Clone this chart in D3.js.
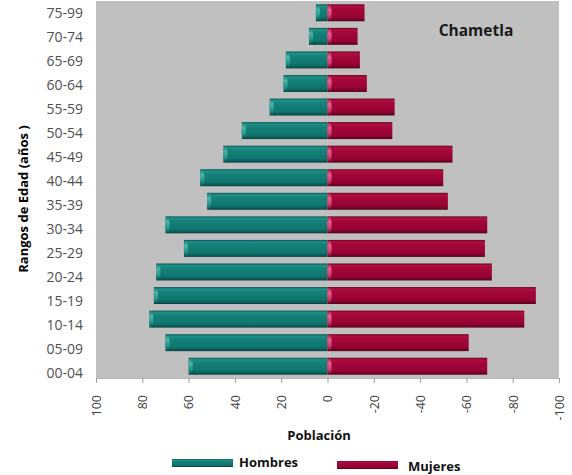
<!DOCTYPE html>
<html>
<head>
<meta charset="utf-8">
<script src="https://cdn.jsdelivr.net/npm/d3@7"></script>
<style>
  html, body { margin: 0; padding: 0; background: #ffffff; }
  svg { display: block; }
  text { font-family: "Open Sans", "Liberation Sans", sans-serif; }
</style>
</head>
<body>
<svg id="chart" width="572" height="475"></svg>
<script>
// Age groups, youngest first
const ageGroups = ["00-04", "05-09", "10-14", "15-19", "20-24", "25-29", "30-34", "35-39",
                   "40-44", "45-49", "50-54", "55-59", "60-64", "65-69", "70-74", "75-99"];
// Population by age group
const hombres = [60, 70, 77, 75, 74, 62, 70, 52, 55, 45, 37, 25, 19, 18, 8, 5];
const mujeres = [69, 61, 85, 90, 71, 68, 69, 52, 50, 54, 28, 29, 17, 14, 13, 16];
// Value-axis ticks (men plotted to the left as positive, women to the right as negative)
const xTicks = [100, 80, 60, 40, 20, 0, -20, -40, -60, -80, -100];

const rows = ageGroups.map((g, i) => ({ group: g, h: hombres[i], m: mujeres[i] }));

const svg = d3.select("#chart");
const plot = { left: 96, right: 559, top: 1, bottom: 378 };

const x = d3.scaleLinear().domain([100, -100]).range([plot.left, plot.right]);
const y = d3.scaleBand()
  .domain(ageGroups.slice().reverse())
  .range([plot.top, plot.bottom])
  .paddingInner(0.28)
  .paddingOuter(0.14);
// label band for the category axis
const yLab = d3.scaleBand()
  .domain(ageGroups.slice().reverse())
  .range([plot.top, 386]);

// gradients for the cylinder-style bars
const defs = svg.append("defs");
function barGradient(id, stops) {
  const g = defs.append("linearGradient").attr("id", id)
    .attr("x1", 0).attr("y1", 0).attr("x2", 0).attr("y2", 1);
  stops.forEach(([o, c]) => g.append("stop").attr("offset", o).attr("stop-color", c));
}
barGradient("gradH", [[0, "#0b5a55"], [0.12, "#1f8f87"], [0.3, "#148178"], [0.75, "#0f766f"], [0.9, "#0b5d58"], [1, "#083f3c"]]);
barGradient("gradM", [[0, "#6a0424"], [0.12, "#b0103f"], [0.3, "#a3063a"], [0.75, "#970334"], [0.9, "#760227"], [1, "#52011b"]]);
barGradient("capH", [[0, "#1a7a73"], [0.3, "#4fb3aa"], [0.7, "#24968d"], [1, "#0c5a55"]]);
barGradient("capM", [[0, "#a82550"], [0.3, "#e85f8a"], [0.7, "#cf3d70"], [1, "#7c0a30"]]);

// plot background
svg.append("rect")
  .attr("x", plot.left).attr("y", plot.top)
  .attr("width", plot.right - plot.left).attr("height", plot.bottom - plot.top)
  .attr("fill", "#c0c0c0");

const bars = svg.append("g");
const bh = y.bandwidth();

// Hombres bars (extend left from zero)
bars.selectAll("rect.h").data(rows).join("rect")
  .attr("class", "h")
  .attr("x", d => x(d.h))
  .attr("y", d => y(d.group))
  .attr("width", d => x(0) - x(d.h))
  .attr("height", bh)
  .attr("fill", "url(#gradH)");
bars.selectAll("ellipse.h").data(rows).join("ellipse")
  .attr("class", "h")
  .attr("cx", d => x(d.h) + 2)
  .attr("cy", d => y(d.group) + bh / 2)
  .attr("rx", 2.2)
  .attr("ry", bh / 2 - 0.5)
  .attr("fill", "url(#capH)");

// Mujeres bars (extend right from zero)
bars.selectAll("rect.m").data(rows).join("rect")
  .attr("class", "m")
  .attr("x", x(0))
  .attr("y", d => y(d.group))
  .attr("width", d => x(-d.m) - x(0))
  .attr("height", bh)
  .attr("fill", "url(#gradM)");
bars.selectAll("ellipse.m").data(rows).join("ellipse")
  .attr("class", "m")
  .attr("cx", x(0) + 2)
  .attr("cy", d => y(d.group) + bh / 2)
  .attr("rx", 2.2)
  .attr("ry", bh / 2 - 0.5)
  .attr("fill", "url(#capM)");

// value axis
const xAxis = svg.append("g")
  .attr("transform", `translate(0,${plot.bottom})`)
  .call(d3.axisBottom(x).tickValues(xTicks).tickFormat(d => String(d)).tickSize(5).tickPadding(0));
xAxis.select(".domain").attr("stroke", "#b8b8b8");
xAxis.selectAll(".tick line").attr("stroke", "#a0a0a0");
xAxis.selectAll(".tick text")
  .attr("transform", "rotate(-90)")
  .attr("x", -17).attr("y", 0).attr("dy", "0.35em")
  .attr("text-anchor", "end")
  .attr("fill", "#404040")
  .style("font-size", "12.5px");

// category axis
const yAxis = svg.append("g")
  .attr("transform", `translate(${plot.left},0)`)
  .call(d3.axisLeft(yLab).tickSize(0).tickPadding(13));
yAxis.select(".domain").remove();
yAxis.selectAll(".tick text")
  .attr("fill", "#505050")
  .style("font-size", "14px");

// axis titles
svg.append("text")
  .attr("transform", "translate(23,199) rotate(-90)")
  .attr("text-anchor", "middle").attr("dy", "0.35em")
  .attr("font-weight", "bold").attr("fill", "#000")
  .style("font-size", "13px")
  .text("Rangos de Edad (años )");
svg.append("text")
  .attr("x", 319).attr("y", 435).attr("dy", "0.35em")
  .attr("text-anchor", "middle")
  .attr("font-weight", "bold").attr("fill", "#111")
  .style("font-size", "13px")
  .text("Población");

// title inside the plot
svg.append("text")
  .attr("x", 476).attr("y", 31).attr("dy", "0.35em")
  .attr("text-anchor", "middle")
  .attr("font-weight", "bold").attr("fill", "#1a1a1a")
  .style("font-size", "15.5px")
  .text("Chametla");

// legend
const legendItems = [
  { name: "Hombres", fill: "url(#gradH)", x: 172, y: 463 },
  { name: "Mujeres", fill: "url(#gradM)", x: 337, y: 465 }
];
const lg = svg.append("g").selectAll("g").data(legendItems).join("g")
  .attr("transform", d => `translate(${d.x},${d.y})`);
lg.append("rect")
  .attr("x", 0).attr("y", -4).attr("width", 61).attr("height", 8)
  .attr("fill", d => d.fill);
lg.append("text")
  .attr("x", d => d.name === "Hombres" ? 67 : 71)
  .attr("y", d => d.name === "Hombres" ? -1 : 1).attr("dy", "0.35em")
  .attr("font-weight", "bold").attr("fill", "#111")
  .style("font-size", "13px")
  .text(d => d.name);
</script>
</body>
</html>
